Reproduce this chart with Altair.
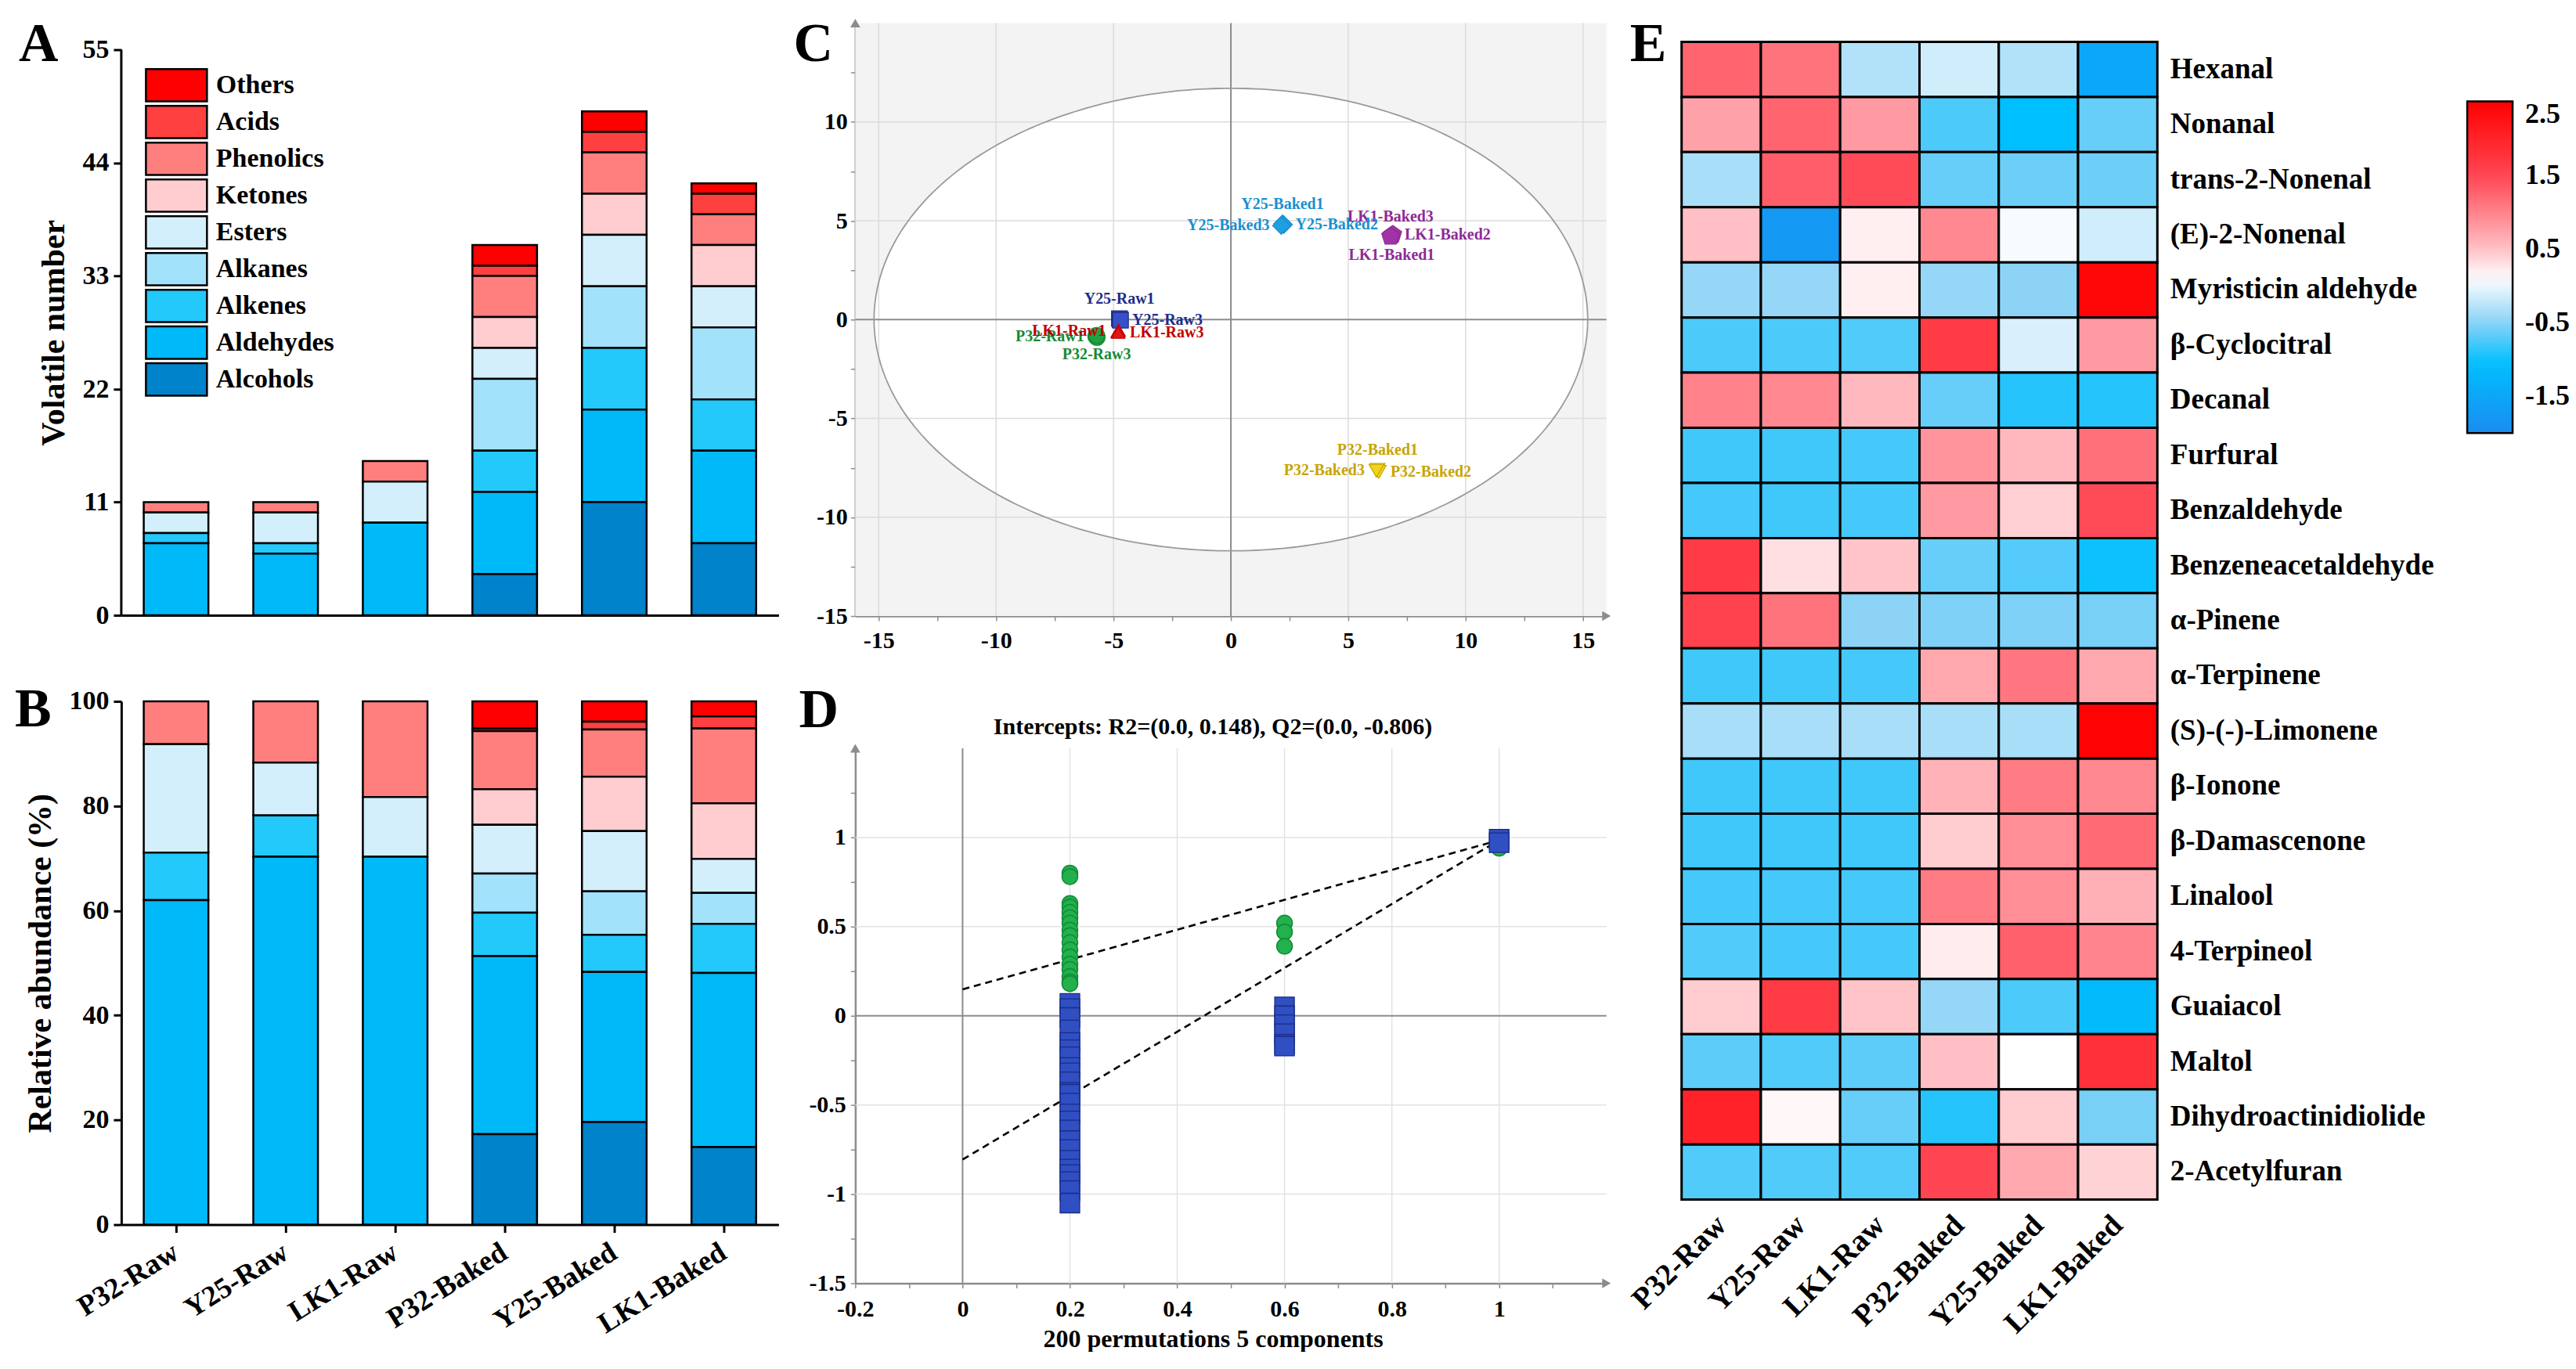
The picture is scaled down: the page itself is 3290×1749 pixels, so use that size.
import altair as alt
import numpy as np
import pandas as pd

FONT = "Liberation Serif"

# ---------------- shared categories ----------------
samples = ["P32-Raw", "Y25-Raw", "LK1-Raw", "P32-Baked", "Y25-Baked", "LK1-Baked"]

# ---------------- Panels A & B ----------------
classes = ["Others", "Acids", "Phenolics", "Ketones", "Esters",
           "Alkanes", "Alkenes", "Aldehydes", "Alcohols"]
class_colors = ["#FF0000", "#FF4040", "#FF7F7F", "#FFCCCF", "#D3EFFB",
                "#A2E3FB", "#22C9FA", "#00B9F9", "#0083CA"]

# volatile numbers (A)
count_others = [0, 0, 0, 2, 2, 1]
count_acids = [0, 0, 0, 1, 2, 2]
count_phenolics = [1, 1, 2, 4, 4, 3]
count_ketones = [0, 0, 0, 3, 4, 4]
count_esters = [2, 3, 4, 3, 5, 4]
count_alkanes = [0, 0, 0, 7, 6, 7]
count_alkenes = [1, 1, 0, 4, 6, 5]
count_aldehydes = [7, 6, 9, 8, 9, 9]
count_alcohols = [0, 0, 0, 4, 11, 7]
a_ticks = [0, 11, 22, 33, 44, 55]

# relative abundance % (B)
rel_others = [0, 0, 0, 5.2, 3.9, 2.9]
rel_acids = [0, 0, 0, 0.5, 1.5, 2.3]
rel_phenolics = [8.2, 11.7, 18.3, 11.1, 9.0, 14.3]
rel_ketones = [0, 0, 0, 6.8, 10.4, 10.6]
rel_esters = [20.7, 10.1, 11.4, 9.3, 11.5, 6.5]
rel_alkanes = [0, 0, 0, 7.5, 8.3, 5.9]
rel_alkenes = [9.1, 7.9, 0, 8.3, 7.1, 9.4]
rel_aldehydes = [62.0, 70.3, 70.3, 34.0, 28.7, 33.3]
rel_alcohols = [0, 0, 0, 17.3, 19.6, 14.8]
b_ticks = [0, 20, 40, 60, 80, 100]

# ---------------- Panel C (PCA scores) ----------------
pca_names = ["P32-Raw1", "P32-Raw2", "P32-Raw3",
             "Y25-Raw1", "Y25-Raw2", "Y25-Raw3",
             "LK1-Raw1", "LK1-Raw2", "LK1-Raw3",
             "P32-Baked1", "P32-Baked2", "P32-Baked3",
             "Y25-Baked1", "Y25-Baked2", "Y25-Baked3",
             "LK1-Baked1", "LK1-Baked2", "LK1-Baked3"]
pca_x = [-5.75, -5.70, -5.72, -4.75, -4.72, -4.70, -4.82, -4.78, -4.80,
         6.25, 6.30, 6.20, 2.20, 2.25, 2.15, 6.85, 6.90, 6.80]
pca_y = [-0.85, -0.90, -0.80, 0.05, 0.00, -0.03, -0.60, -0.55, -0.65,
         -7.60, -7.70, -7.65, 4.85, 4.80, 4.75, 4.25, 4.30, 4.20]
# where each sample's label sits ("hidden" = covered by a sibling label in the original)
pca_label_side = ["left", "hidden", "below", "above", "hidden", "right",
                  "left", "hidden", "right", "above", "right", "left",
                  "above", "right", "left", "below", "right", "above"]
group_names = ["P32-Raw", "Y25-Raw", "LK1-Raw", "P32-Baked", "Y25-Baked", "LK1-Baked"]
group_fill = ["#20A040", "#3550C8", "#E01515", "#F2D21A", "#1E9FE0", "#A232A8"]
group_text = ["#168A36", "#1E2E8A", "#C00000", "#C8A400", "#1A8FCF", "#8E2A95"]
group_shape = ["circle", "square", "triangle-up", "triangle-down", "diamond",
               "M0,-1L0.951,-0.309L0.588,0.809L-0.588,0.809L-0.951,-0.309Z"]
group_size = [420, 400, 300, 360, 500, 560]
ellipse_a = 15.2
ellipse_b = 11.7
c_ticks_x = [-15, -12.5, -10, -7.5, -5, -2.5, 0, 2.5, 5, 7.5, 10, 12.5, 15]
c_ticks_y = [-15, -12.5, -10, -7.5, -5, -2.5, 0, 2.5, 5, 7.5, 10, 12.5]
c_grid_x = [-15, -10, -5, 5, 10, 15]
c_grid_y = [-10, -5, 5, 10]

# ---------------- Panel D (permutation test) ----------------
d_title = "Intercepts: R2=(0.0, 0.148), Q2=(0.0, -0.806)"
r2_x = [0.2] * 17 + [0.6] * 3 + [1.0]
r2_y = [0.80, 0.78, 0.63, 0.61, 0.58, 0.55, 0.52, 0.48, 0.45, 0.41, 0.37,
        0.33, 0.29, 0.26, 0.22, 0.19, 0.18,
        0.52, 0.47, 0.39,
        0.94]
q2_x = [0.2] * 24 + [0.6] * 6 + [1.0] * 2
q2_y = [0.07, 0.04, -0.01, -0.08, -0.15, -0.19, -0.23, -0.29, -0.32, -0.37,
        -0.43, -0.44, -0.49, -0.55, -0.59, -0.64, -0.70, -0.75, -0.81, -0.86,
        -0.89, -0.93, -0.98, -1.05,
        0.05, 0.00, -0.05, -0.10, -0.16, -0.17,
        0.99, 0.97]
fit_x = [0, 1]
r2_fit = [0.148, 0.985]
q2_fit = [-0.806, 0.985]
d_ticks_x = [-0.2, -0.1, 0, 0.1, 0.2, 0.3, 0.4, 0.5, 0.6, 0.7, 0.8, 0.9, 1, 1.1]
d_ticks_y = [-1.5, -1.25, -1, -0.75, -0.5, -0.25, 0, 0.25, 0.5, 0.75, 1, 1.25]
d_grid_x = [0.2, 0.4, 0.6, 0.8, 1]
d_grid_y = [-1, -0.5, 0.5, 1]

# ---------------- Panel E (heatmap) ----------------
compounds = ["Hexanal", "Nonanal", "trans-2-Nonenal", "(E)-2-Nonenal",
             "Myristicin aldehyde", "β-Cyclocitral", "Decanal", "Furfural",
             "Benzaldehyde", "Benzeneacetaldehyde", "α-Pinene", "α-Terpinene",
             "(S)-(-)-Limonene", "β-Ionone", "β-Damascenone", "Linalool",
             "4-Terpineol", "Guaiacol", "Maltol", "Dihydroactinidiolide",
             "2-Acetylfuran"]
z_p32_raw = [1.25, 0.75, -0.35, 0.5, -0.45, -0.75, 1.0, -0.8, -0.78, 1.65, 1.55,
             -0.8, -0.35, -0.8, -0.8, -0.78, -0.73, 0.42, -0.68, 2.0, -0.73]
z_y25_raw = [1.12, 1.25, 1.3, -1.75, -0.45, -0.75, 0.95, -0.8, -0.8, 0.3, 1.12,
             -0.8, -0.35, -0.8, -0.8, -0.78, -0.78, 1.65, -0.73, 0.15, -0.73]
z_lk1_raw = [-0.3, 0.8, 1.45, 0.2, 0.2, -0.73, 0.55, -0.78, -0.78, 0.47, -0.5,
             -0.78, -0.35, -0.8, -0.8, -0.78, -0.78, 0.47, -0.68, -0.65, -0.73]
z_p32_baked = [-0.15, -0.75, -0.65, 0.95, -0.45, 1.65, -0.65, 0.85, 0.8, -0.65, -0.55,
               0.68, -0.35, 0.6, 0.42, 1.05, 0.22, -0.45, 0.5, -0.9, 1.5]
z_y25_baked = [-0.3, -1.05, -0.62, 0.05, -0.5, -0.1, -0.9, 0.55, 0.4, -0.72, -0.55,
               1.1, -0.35, 1.05, 0.9, 0.9, 1.28, -0.75, 0.1, 0.42, 0.68]
z_lk1_baked = [-1.5, -0.65, -0.62, -0.15, 2.4, 0.8, -0.9, 1.15, 1.45, -1.0, -0.58,
               0.68, 2.45, 0.95, 1.2, 0.62, 0.98, -1.15, 1.8, -0.58, 0.38]
heat_stops = [-2.0, -1.05, -0.5, 0.1, 0.5, 1.5, 2.5]
heat_colors = ["#1A8CF0", "#00BFFF", "#8CD3F6", "#FFFFFF", "#FFBFC4", "#FF4552", "#FF0000"]
heat_legend_values = [2.5, 1.5, 0.5, -0.5, -1.5]

# =====================================================================
one_row = pd.DataFrame({"t": [""]})


def letter(ch, x, y):
    return alt.Chart(pd.DataFrame({"t": [ch]})).mark_text(
        font=FONT, fontWeight="bold", fontSize=70, align="left",
        baseline="alphabetic", color="black"
    ).encode(text="t:N", x=alt.value(x), y=alt.value(y))


stack_rank = {c: len(classes) - 1 - i for i, c in enumerate(classes)}


def long_df(series_list):
    rows = []
    for ci, c in enumerate(classes):
        for si, s in enumerate(samples):
            v = series_list[ci][si]
            if v > 0:
                rows.append({"sample": s, "cls": c, "v": v, "rank": stack_rank[c]})
    return pd.DataFrame(rows)


df_count = long_df([count_others, count_acids, count_phenolics, count_ketones,
                    count_esters, count_alkanes, count_alkenes, count_aldehydes,
                    count_alcohols])
df_rel = long_df([rel_others, rel_acids, rel_phenolics, rel_ketones, rel_esters,
                  rel_alkanes, rel_alkenes, rel_aldehydes, rel_alcohols])

# Panel A's frame has 34 px of head-room above the 55 tick (so all panels share a top line)
WA, HA_PLOT, HEAD_A = 840, 723, 34
HA = HA_PLOT + HEAD_A
A_TOP = 55 * HA / HA_PLOT
WB, HB = 840, 669

y_axis_common = dict(tickSize=10, tickWidth=3, tickColor="black", domainColor="black",
                     domainWidth=3, labelFontSize=34, titleFontSize=42, labelPadding=6,
                     titlePadding=14, grid=False, labelFlush=False, labelColor="black")

legendA = alt.Legend(title=None, orient="none", legendX=30, legendY=56,
                     symbolType="M-1,-0.53H1V0.53H-1Z", symbolSize=6084,
                     symbolStrokeColor="black", symbolStrokeWidth=2.5, symbolOpacity=1,
                     labelFontSize=34, labelOffset=10, clipHeight=47, rowPadding=0,
                     labelColor="black", labelFont=FONT, labelFontWeight="bold")

ysA = alt.Scale(domain=[0, A_TOP], nice=False)
axAy = alt.Axis(values=a_ticks, title="Volatile number", domain=False,
                titleY=HEAD_A + HA_PLOT / 2, **y_axis_common)

barsA = alt.Chart(df_count).mark_bar(stroke="black", strokeWidth=2.5).encode(
    x=alt.X("sample:N", sort=samples,
            scale=alt.Scale(paddingInner=0.41, paddingOuter=0.205),
            axis=alt.Axis(title=None, labels=False, ticks=False, domainColor="black",
                          domainWidth=3)),
    y=alt.Y("v:Q", stack="zero", scale=ysA, axis=axAy),
    color=alt.Color("cls:N", scale=alt.Scale(domain=classes, range=class_colors),
                    legend=legendA),
    order=alt.Order("rank:Q", sort="ascending"),
)
axisLineA = alt.Chart(pd.DataFrame({"y0": [a_ticks[0]], "y1": [a_ticks[-1]]})).mark_rule(
    color="black", strokeWidth=3).encode(
    x=alt.value(0), y=alt.Y("y0:Q", scale=ysA, axis=axAy), y2="y1:Q")
chartA = alt.layer(barsA, axisLineA, letter("A", -131, 49)).properties(width=WA, height=HA)

barsB = alt.Chart(df_rel).mark_bar(stroke="black", strokeWidth=2.5).encode(
    x=alt.X("sample:N", sort=samples,
            scale=alt.Scale(paddingInner=0.41, paddingOuter=0.205),
            axis=alt.Axis(title=None, labelAngle=-32, labelAlign="right",
                          labelBaseline="middle", labelFontSize=37, labelPadding=22,
                          labelLimit=400,
                          ticks=True, tickSize=10, tickWidth=3, tickColor="black",
                          domainColor="black", domainWidth=3, bandPosition=0.5,
                          labelColor="black")),
    y=alt.Y("v:Q", stack="zero", scale=alt.Scale(domain=[0, 100], nice=False),
            axis=alt.Axis(values=b_ticks, title="Relative abundance (%)",
                          **y_axis_common)),
    color=alt.Color("cls:N", scale=alt.Scale(domain=classes, range=class_colors),
                    legend=None),
    order=alt.Order("rank:Q", sort="ascending"),
)
chartB = alt.layer(barsB, letter("B", -136, 32)).properties(width=WB, height=HB)

colAB = alt.vconcat(chartA, chartB, spacing=69).resolve_scale(
    color="independent").resolve_legend(color="independent")

# ---------------- Panel C ----------------
WC, HC = 960, 758
xsC = alt.Scale(domain=[-16, 16], nice=False, zero=False)
ysC = alt.Scale(domain=[-15, 15], nice=False, zero=False)
GREY_AX = "#8C8C8C"
axC_common = dict(title=None, grid=False, domainColor=GREY_AX, domainWidth=2.5,
                  tickColor=GREY_AX, tickSize=6, tickWidth=1.5, labelFontSize=30,
                  labelFlush=False, labelOverlap=False, labelColor="black",
                  labelExpr="datum.value % 5 == 0 ? '' + datum.value : ''")
axCx = alt.Axis(values=c_ticks_x, labelPadding=10, **axC_common)
axCy = alt.Axis(values=c_ticks_y, labelPadding=4, **axC_common)

gi = {g: i for i, g in enumerate(group_names)}
pca_group = [n[:-1] for n in pca_names]
df_pca = pd.DataFrame({
    "name": pca_names, "x": pca_x, "y": pca_y, "side": pca_label_side,
    "fc": [group_fill[gi[g]] for g in pca_group],
    "tc": [group_text[gi[g]] for g in pca_group],
    "shp": [group_shape[gi[g]] for g in pca_group],
    "sz": [group_size[gi[g]] for g in pca_group],
})

t_half = np.linspace(0, np.pi, 241)
df_ell_fill = pd.DataFrame({"ex": ellipse_a * np.cos(t_half),
                            "ey": ellipse_b * np.sin(t_half),
                            "ey2": -ellipse_b * np.sin(t_half)})
t_full = np.linspace(0, 2 * np.pi, 361)
df_ell_line = pd.DataFrame({"ex": ellipse_a * np.cos(t_full),
                            "ey": ellipse_b * np.sin(t_full),
                            "o": np.arange(len(t_full))})


def cx(f):
    return alt.X(f, scale=xsC, axis=axCx)


def cy(f):
    return alt.Y(f, scale=ysC, axis=axCy)


bgC = alt.Chart(one_row).mark_rect(color="#F3F3F3").encode(
    x=alt.value(0), x2=alt.value(WC), y=alt.value(0), y2=alt.value(HC))
ellFill = alt.Chart(df_ell_fill).mark_area(color="white", opacity=1).encode(
    x=cx("ex:Q"), y=cy("ey:Q"), y2="ey2:Q")
gridCx = alt.Chart(pd.DataFrame({"g": c_grid_x})).mark_rule(
    color="#DCDCDC", strokeWidth=1.5).encode(x=cx("g:Q"))
gridCy = alt.Chart(pd.DataFrame({"g": c_grid_y})).mark_rule(
    color="#DCDCDC", strokeWidth=1.5).encode(y=cy("g:Q"))
zeroCx = alt.Chart(pd.DataFrame({"g": [0]})).mark_rule(
    color="#8C8C8C", strokeWidth=2).encode(x=cx("g:Q"))
zeroCy = alt.Chart(pd.DataFrame({"g": [0]})).mark_rule(
    color="#8C8C8C", strokeWidth=2).encode(y=cy("g:Q"))
ellLine = alt.Chart(df_ell_line).mark_line(color="#9A9A9A", strokeWidth=1.8).encode(
    x=cx("ex:Q"), y=cy("ey:Q"), order="o:Q")
ptsC = alt.Chart(df_pca).mark_point(filled=True, opacity=1, strokeWidth=1.2).encode(
    x=cx("x:Q"), y=cy("y:Q"),
    shape=alt.Shape("shp:N", scale=None), fill=alt.Fill("fc:N", scale=None),
    stroke=alt.Stroke("tc:N", scale=None), size=alt.Size("sz:Q", scale=None))

side_params = {
    "above": dict(dy=-25, align="center", baseline="middle"),
    "below": dict(dy=25, align="center", baseline="middle"),
    "left": dict(dx=-15, align="right", baseline="middle"),
    "right": dict(dx=15, align="left", baseline="middle"),
}
labelLayers = []
for side, prm in side_params.items():
    labelLayers.append(
        alt.Chart(df_pca).transform_filter(alt.datum.side == side).mark_text(
            font=FONT, fontWeight="bold", fontSize=20, **prm
        ).encode(x=cx("x:Q"), y=cy("y:Q"),
                 text="name:N", color=alt.Color("tc:N", scale=None)))

arrowCup = alt.Chart(one_row).mark_point(shape="triangle-up", filled=True, size=160,
                                          color=GREY_AX, opacity=1).encode(
    x=alt.value(0), y=alt.value(0))
arrowCright = alt.Chart(one_row).mark_point(shape="triangle-right", filled=True, size=160,
                                             color=GREY_AX, opacity=1).encode(
    x=alt.value(WC), y=alt.value(HC))

chartC = alt.layer(bgC, ellFill, gridCx, gridCy, zeroCx, zeroCy, ellLine, ptsC,
                   *labelLayers, arrowCup, arrowCright, letter("C", -79, 49)
                   ).properties(width=WC, height=HC)

# ---------------- Panel D ----------------
WD, HD = 960, 684
xsD = alt.Scale(domain=[-0.2, 1.2], nice=False, zero=False)
ysD = alt.Scale(domain=[-1.5, 1.5], nice=False, zero=False)
axD_common = dict(grid=False, domainColor=GREY_AX, domainWidth=2.5, tickColor=GREY_AX,
                  tickSize=6, tickWidth=1.5, labelFontSize=30, labelFlush=False,
                  labelOverlap=False, labelColor="black")
axDx = alt.Axis(values=d_ticks_x, labelPadding=12, title="200 permutations 5 components",
                titleFontSize=32, titlePadding=8, titleX=457,
                labelExpr="abs(datum.value * 5 - round(datum.value * 5)) < 0.001 ? '' + datum.value : ''",
                **axD_common)
axDy = alt.Axis(values=d_ticks_y, labelPadding=6, title=None,
                labelExpr="abs(datum.value * 2 - round(datum.value * 2)) < 0.001 ? '' + datum.value : ''",
                **axD_common)


def dx_(f):
    return alt.X(f, scale=xsD, axis=axDx)


def dy_(f):
    return alt.Y(f, scale=ysD, axis=axDy)


gridDx = alt.Chart(pd.DataFrame({"g": d_grid_x})).mark_rule(
    color="#E2E2E2", strokeWidth=1.5).encode(x=dx_("g:Q"))
gridDy = alt.Chart(pd.DataFrame({"g": d_grid_y})).mark_rule(
    color="#E2E2E2", strokeWidth=1.5).encode(y=dy_("g:Q"))
zeroDx = alt.Chart(pd.DataFrame({"g": [0]})).mark_rule(
    color="#8C8C8C", strokeWidth=2).encode(x=dx_("g:Q"))
zeroDy = alt.Chart(pd.DataFrame({"g": [0]})).mark_rule(
    color="#8C8C8C", strokeWidth=2).encode(y=dy_("g:Q"))

df_fit = pd.DataFrame({"fx": fit_x * 2, "fy": r2_fit + q2_fit,
                       "s": ["R2"] * 2 + ["Q2"] * 2})
fitD = alt.Chart(df_fit).mark_line(color="black", strokeWidth=2.6, strokeDash=[9, 6]).encode(
    x=dx_("fx:Q"), y=dy_("fy:Q"), detail="s:N")
r2D = alt.Chart(pd.DataFrame({"px": r2_x, "py": r2_y})).mark_point(
    shape="circle", filled=True, size=400, color="#22B14C", stroke="#138A38",
    strokeWidth=1.5, opacity=1).encode(x=dx_("px:Q"), y=dy_("py:Q"))
q2D = alt.Chart(pd.DataFrame({"px": q2_x, "py": q2_y})).mark_point(
    shape="square", filled=True, size=625, color="#2F4FC2", stroke="#1B2B85",
    strokeWidth=1.3, opacity=1).encode(x=dx_("px:Q"), y=dy_("py:Q"))
arrowDup = alt.Chart(one_row).mark_point(shape="triangle-up", filled=True, size=160,
                                          color=GREY_AX, opacity=1).encode(
    x=alt.value(0), y=alt.value(0))
arrowDright = alt.Chart(one_row).mark_point(shape="triangle-right", filled=True, size=160,
                                             color=GREY_AX, opacity=1).encode(
    x=alt.value(WD), y=alt.value(HD))
titleD = alt.Chart(pd.DataFrame({"t": [d_title]})).mark_text(
    font=FONT, fontWeight="bold", fontSize=30, align="center", baseline="alphabetic",
    color="black").encode(text="t:N", x=alt.value(457), y=alt.value(-18))

chartD = alt.layer(gridDx, gridDy, zeroDx, zeroDy, fitD, r2D, q2D, arrowDup, arrowDright,
                   titleD, letter("D", -72, -27)).properties(width=WD, height=HD)

colCD = alt.vconcat(chartC, chartD, spacing=40)

# ---------------- Panel E ----------------
z_cols = [z_p32_raw, z_y25_raw, z_lk1_raw, z_p32_baked, z_y25_baked, z_lk1_baked]
rowsE = []
for si, s in enumerate(samples):
    for ci, c in enumerate(compounds):
        rowsE.append({"sample": s, "compound": c, "z": z_cols[si][ci]})
df_E = pd.DataFrame(rowsE)

WE, HE_CELLS, HEAD_E = 608, 1480, 24
HE = HE_CELLS + HEAD_E
heat = alt.Chart(df_E).mark_rect(stroke="black", strokeWidth=3).encode(
    x=alt.X("sample:N", sort=samples, scale=alt.Scale(paddingInner=0, paddingOuter=0),
            axis=alt.Axis(title=None, labelAngle=-45, labelAlign="right",
                          labelBaseline="middle", labelFontSize=39, labelPadding=26,
                          labelLimit=400,
                          ticks=False, domain=False, labelColor="black")),
    y=alt.Y("compound:N", sort=compounds,
            scale=alt.Scale(paddingInner=0, paddingOuter=0, range=[HEAD_E, HE]),
            axis=alt.Axis(title=None, orient="right", labelFontSize=37, labelPadding=16,
                          ticks=False, domain=False, labelColor="black", labelLimit=500)),
    color=alt.Color("z:Q",
                    scale=alt.Scale(domain=heat_stops, range=heat_colors, interpolate="rgb"),
                    legend=alt.Legend(title=None, orient="none", legendX=1004, legendY=100,
                                      direction="vertical", gradientLength=424,
                                      gradientThickness=58, gradientStrokeColor="black",
                                      gradientStrokeWidth=2.5, values=heat_legend_values,
                                      labelExpr="'' + datum.value", labelFontSize=36,
                                      labelOffset=16, labelBaseline="middle",
                                      labelColor="black", labelFont=FONT,
                                      labelFontWeight="bold")),
)
chartE = alt.layer(heat, letter("E", -66, 49)).properties(width=WE, height=HE)

chart = alt.hconcat(colAB, colCD, chartE, spacing=19).resolve_scale(
    color="independent").resolve_legend(color="independent").properties(
    padding={"left": 11, "top": 14, "right": 0, "bottom": 0},
    background="white",
).configure(font=FONT).configure_axis(
    labelFont=FONT, titleFont=FONT, labelFontWeight="bold", titleFontWeight="bold",
    titleColor="black",
).configure_view(strokeWidth=0).configure_title(font=FONT, fontWeight="bold")

chart.save("out.html", embed_options={"renderer": "svg", "actions": False})
